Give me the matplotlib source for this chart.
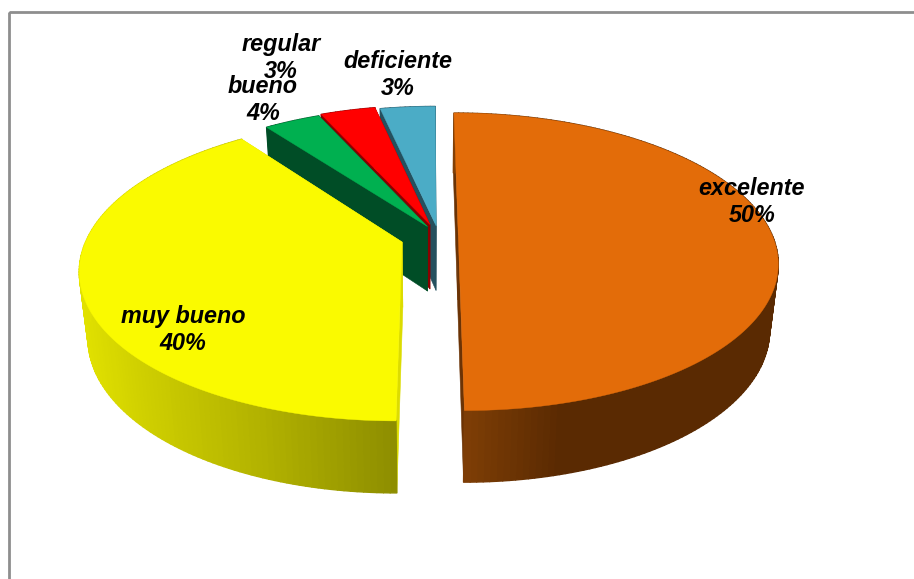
import numpy as np
import matplotlib
matplotlib.use("Agg")
import matplotlib.pyplot as plt
from matplotlib.patches import Polygon, Rectangle
from matplotlib.collections import PolyCollection
from matplotlib.colors import to_rgb

# ---- data
categories = ["excelente", "muy bueno", "bueno", "regular", "deficiente"]
values = [50.0, 39.89, 3.42, 3.35, 3.34]
percent_labels = ["50%", "40%", "4%", "3%", "3%"]

# ---- styles
top_colors = ["#E36C09", "#FAFA00", "#00B050", "#FF0000", "#4BACC6"]
radial_colors = ["#6B3305", "#DCDC00", "#004D26", "#8A0000", "#25505E"]
wall_stops = [
    [(455, "#824006"), (560, "#5A2A02"), (780, "#5A2A02")],
    [(75, "#E2E200"), (160, "#CACA00"), (260, "#B2B200"), (400, "#8C8C00")],
    [(0, "#004D26"), (914, "#004D26")],
    [(0, "#8A0000"), (914, "#8A0000")],
    [(0, "#25505E"), (914, "#25505E")],
]
# ground-plane offset of each slice
explode_u = [0.090, -0.088, -0.008, 0.000, 0.020]
explode_v = [0.020, -0.028, 0.080, 0.094, 0.084]
label_xy = [(752, 202), (183, 330), (263, 100), (281, 58), (398, 75)]

# ---- projection (pixels)
XC, YC = 430.0, 238.0
A, H, K = 315.0, 145.0, 0.18
DEPTH, SHRINK = 65.0, 0.975


def project(u, v):
    w = 1 + K * v
    return XC + A * u / w, YC - H * v / w, w


def top_pt(theta, ou, ov, r=1.0):
    return project(ou + r * np.sin(theta), ov + r * np.cos(theta))


def bottom_of(x, y, w):
    return XC + (x - XC) * SHRINK, y + DEPTH / np.sqrt(w)


fig = plt.figure(figsize=(9.14, 5.79), dpi=100, facecolor="white")
ax = fig.add_axes([0, 0, 1, 1])
ax.set_xlim(0, 914)
ax.set_ylim(579, 0)
ax.axis("off")

ax.add_patch(Rectangle((8.5, 12), 1000, 1000, fill=False, ec="#8E8E8E", lw=2.0, zorder=1))

frac = np.array(values) / sum(values) * 2 * np.pi
ends = np.cumsum(frac)
starts = ends - frac
order = [4, 3, 2, 1, 0]
z = 2
for i in order:
    t0, t1 = starts[i], ends[i]
    ou, ov = explode_u[i], explode_v[i]
    thetas = np.linspace(t0, t1, max(int(np.degrees(t1 - t0)), 8))
    xt, yt, wt = top_pt(thetas, ou, ov)
    xb, yb = bottom_of(xt, yt, wt)
    ax0, ay0, aw0 = project(ou, ov)
    bx0, by0 = bottom_of(ax0, ay0, aw0)

    # radial walls
    for k in (0, -1):
        poly = [(ax0, ay0), (xt[k], yt[k]), (xb[k], yb[k]), (bx0, by0)]
        ax.add_patch(Polygon(poly, closed=True, fc=radial_colors[i], ec=radial_colors[i],
                             lw=0.4, zorder=z))
    z += 1

    # outer curved wall, in strips
    quads, cols = [], []
    stops = wall_stops[i]
    sx = [s[0] for s in stops]
    srgb = np.array([to_rgb(s[1]) for s in stops])
    for j in range(len(thetas) - 1):
        quads.append([(xt[j], yt[j]), (xt[j + 1], yt[j + 1]), (xb[j + 1], yb[j + 1]), (xb[j], yb[j])])
        mx = (xt[j] + xt[j + 1]) / 2
        cols.append([np.interp(mx, sx, srgb[:, c]) for c in range(3)])
    ax.add_collection(PolyCollection(quads, facecolors=cols, edgecolors=cols, linewidths=1.0, zorder=z))
    z += 1

    # top face
    pts = [(ax0, ay0)] + list(zip(xt, yt))
    ax.add_patch(Polygon(pts, closed=True, fc=top_colors[i], ec=top_colors[i], lw=0.3, zorder=z))
    z += 1

for name, pct, (lx, ly) in zip(categories, percent_labels, label_xy):
    ax.text(lx, ly, f"{name}\n{pct}", ha="center", va="center", fontsize=16.8,
            family="Liberation Sans", weight="bold", style="italic", color="black",
            linespacing=1.2, zorder=z + 1)

fig.savefig("out.png", dpi=100)
